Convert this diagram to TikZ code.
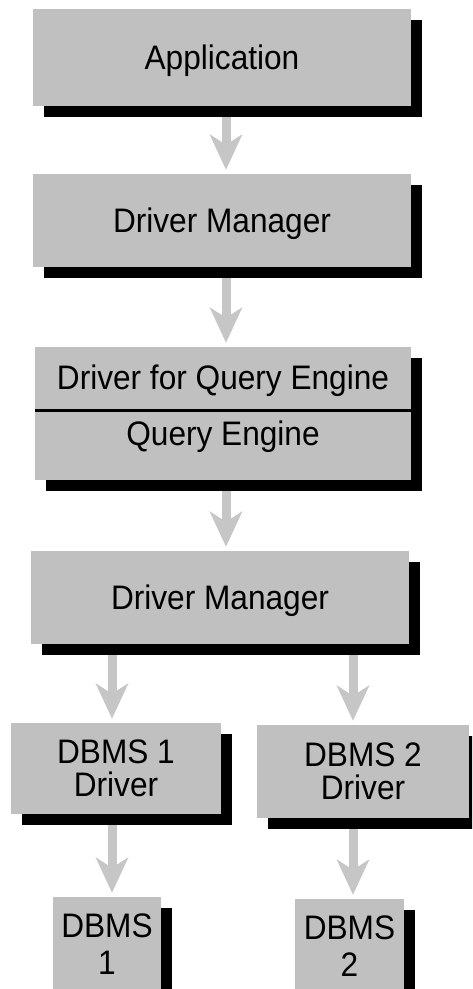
\documentclass[tikz,border=0pt]{standalone}
\usepackage{fontspec}
\setmainfont{Liberation Sans}[FakeStretch=0.93]
\usetikzlibrary{shadows,arrows.meta}
\definecolor{boxgray}{RGB}{192,192,192}
\definecolor{arrowgray}{RGB}{198,198,198}
\tikzset{
	box/.style={rectangle, fill=boxgray, inner sep=0pt, align=center,
		font=\fontsize{34}{33}\selectfont,
		drop shadow={shadow xshift=11pt, shadow yshift=-11pt, fill=black, opacity=1}},
	oneline/.style={text height=24.3pt, text depth=0pt},
	label text/.style={inner sep=0pt, font=\fontsize{34}{33}\selectfont, oneline},
	flow/.style={draw=arrowgray, line width=9pt, shorten <=11pt, shorten >=4pt,
		-{Stealth[length=35pt, width=32pt, inset=10pt]}},
	divider/.style={draw=black, line width=3pt}
}

\begin{document}
\begin{tikzpicture}[x=1pt, y=-1pt]
	\useasboundingbox (0,0) rectangle (472,989);
	\clip (0,0) rectangle (472,989);
	\coordinate (mid) at (226,0);
	\coordinate (lane1) at (112,0);
	\coordinate (lane2) at (353,0);
	\coordinate (qesplit) at (0,410);
	\node[box, oneline, minimum width=378pt, minimum height=97pt] (app) at (222,57.5) {Application};
	\node[box, oneline, minimum width=378pt, minimum height=93pt] (dm1) at (222,220.5) {Driver Manager};
	\node[box, minimum width=376pt, minimum height=133pt] (qe) at (223,413.5) {};
		\node[label text] (qedrv) at (223,377.5) {Driver for Query Engine};
		\node[label text] (qeng) at (223,433.5) {Query Engine};
	\draw[divider] (qe.west |- qesplit) -- (qe.east |- qesplit);
	\node[box, oneline, minimum width=378pt, minimum height=93pt] (dm2) at (220,597.5) {Driver Manager};
	\node[box, minimum width=210pt, minimum height=91pt] (drv1) at (116,768.5) {DBMS 1\\Driver};
	\node[box, minimum width=212pt, minimum height=93pt] (drv2) at (363,771.5) {DBMS 2\\Driver};
	\node[box, minimum width=108pt, minimum height=94pt] (db1) at (107,944) {DBMS\\[4pt]1};
	\node[box, minimum width=109pt, minimum height=94pt] (db2) at (349.5,946) {DBMS\\[4pt]2};
	% connectors
	\draw[flow] (mid |- app.south) -- (mid |- dm1.north);
	\draw[flow] (mid |- dm1.south) -- (mid |- qe.north);
	\draw[flow] (mid |- qe.south) -- (mid |- dm2.north);
	\draw[flow] (lane1 |- dm2.south) -- (lane1 |- drv1.north);
	\draw[flow] (lane2 |- dm2.south) -- (lane2 |- drv2.north);
	\draw[flow] (lane1 |- drv1.south) -- (lane1 |- db1.north);
	\draw[flow] (lane2 |- drv2.south) -- (lane2 |- db2.north);
\end{tikzpicture}
\end{document}
